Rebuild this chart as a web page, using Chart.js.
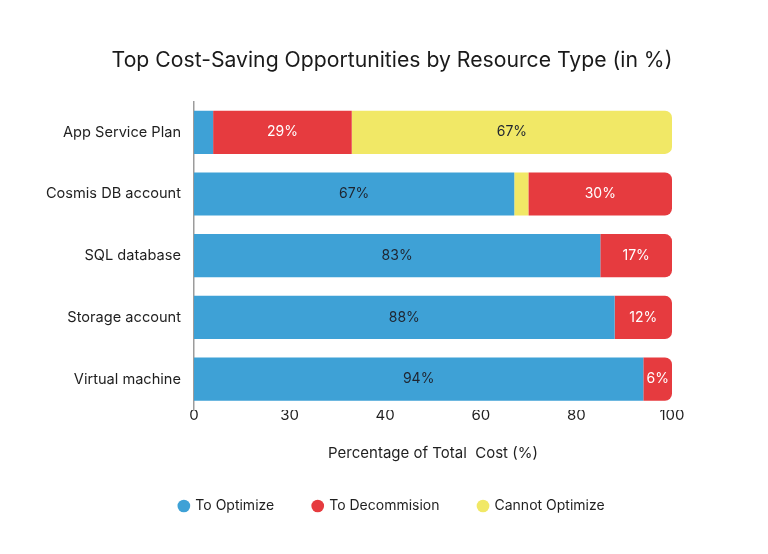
<!DOCTYPE html>
<html>
<head>
<meta charset="utf-8">
<script src="https://cdn.jsdelivr.net/npm/chart.js@4.4.0/dist/chart.umd.min.js"></script>
<style>
  html, body { margin: 0; padding: 0; background: #fff; }
  #wrap { width: 768px; height: 554px; position: relative; }
</style>
</head>
<body>
<div id="wrap"><canvas id="costChart"></canvas></div>
<script>
// Chart data
const resources = ["App Service Plan", "Cosmis DB account", "SQL database", "Storage account", "Virtual machine"];
const seriesNames = ["To Optimize", "To Decommision", "Cannot Optimize"];
const toOptimize = [4, 67, 85, 88, 94];
const toDecommission = [29, 30, 15, 12, 6];
const cannotOptimize = [67, 3, 0, 0, 0];
// printed labels inside the bars ("" = no label shown)
const optimizeLabels = ["", "67%", "83%", "88%", "94%"];
const decommissionLabels = ["29%", "30%", "17%", "12%", "6%"];
const cannotLabels = ["67%", "", "", "", ""];
// order of the segments in each bar, left to right (0 = optimize, 1 = decommission, 2 = cannot)
const segmentOrder = [[0, 1, 2], [0, 2, 1], [0, 1, 2], [0, 1, 2], [0, 1, 2]];
const xTickLabels = ["0", "30", "40", "60", "80", "100"];

const colors = ["#3ea1d6", "#e63b3f", "#f1e866"];
const labelColors = ["#1f2530", "#ffffff", "#1f2530"];
const FONT = "Inter, 'Noto Sans', sans-serif";

// turn the values into [start, end] ranges following each bar's segment order
const values = [toOptimize, toDecommission, cannotOptimize];
const ranges = [[], [], []];
resources.forEach(function(r, i) {
    let pos = 0;
    segmentOrder[i].forEach(function(s) {
        ranges[s][i] = [pos, pos + values[s][i]];
        pos += values[s][i];
    });
});
const printed = [optimizeLabels, decommissionLabels, cannotLabels];

// draws the percentage text in the middle of each segment
const segmentLabels = {
    id: 'segmentLabels',
    afterDatasetsDraw(chart) {
        const ctx = chart.ctx;
        ctx.save();
        ctx.font = "14px " + FONT;
        ctx.textAlign = 'center';
        ctx.textBaseline = 'middle';
        chart.data.datasets.forEach(function(ds, d) {
            const meta = chart.getDatasetMeta(d);
            meta.data.forEach(function(bar, i) {
                const txt = printed[d][i];
                if (!txt) return;
                ctx.fillStyle = labelColors[d];
                ctx.fillText(txt, (bar.x + bar.base) / 2, bar.y);
            });
        });
        ctx.restore();
    }
};

new Chart(document.getElementById('costChart'), {
    type: 'bar',
    data: {
        labels: resources,
        datasets: seriesNames.map(function(name, d) {
            return {
                label: name,
                data: ranges[d],
                backgroundColor: colors[d],
                borderWidth: 0,
                borderSkipped: false,
                borderRadius: function(c) {
                    const v = c.raw;
                    if (v && v[1] >= 100 && v[1] > v[0]) {
                        return { topLeft: 0, bottomLeft: 0, topRight: 7, bottomRight: 7 };
                    }
                    return 0;
                },
                grouped: false,
                barPercentage: 0.7,
                categoryPercentage: 1.0
            };
        })
    },
    options: {
        indexAxis: 'y',
        responsive: true,
        maintainAspectRatio: false,
        animation: false,
        layout: { padding: { left: 30, right: 14, top: 0, bottom: 31 } },
        scales: {
            x: {
                min: 0,
                max: 100,
                grid: { display: false },
                border: { display: false },
                ticks: {
                    stepSize: 20,
                    padding: -12,
                    color: '#1f1f1f',
                    font: { family: FONT, size: 15 },
                    callback: function(v, i) { return xTickLabels[i]; }
                },
                title: {
                    display: true,
                    text: 'Percentage of Total  Cost (%)',
                    color: '#1f1f1f',
                    font: { family: FONT, size: 15 },
                    padding: { top: 32, bottom: -2 }
                }
            },
            y: {
                grid: { display: false, drawTicks: false },
                border: { display: true, color: '#9c9c9c', width: 1.5 },
                ticks: {
                    padding: 13,
                    color: '#1f1f1f',
                    font: { family: FONT, size: 14.6 }
                },
                afterFit: function(scale) { scale.width = 164; }
            },
            // empty right-hand axis that only keeps the space right of the bars
            yRight: {
                type: 'category',
                position: 'right',
                grid: { display: false, drawTicks: false },
                border: { display: false },
                ticks: { display: false },
                afterFit: function(scale) { scale.width = 82; }
            }
        },
        plugins: {
            title: {
                display: true,
                text: 'Top Cost-Saving Opportunities by Resource Type (in %)',
                color: '#1a1a1a',
                font: { family: FONT, size: 21.2, weight: 'normal' },
                padding: { top: 48, bottom: 28 }
            },
            legend: {
                position: 'bottom',
                labels: {
                    usePointStyle: true,
                    pointStyle: 'circle',
                    boxWidth: 9,
                    boxHeight: 9,
                    padding: 39,
                    color: '#1f1f1f',
                    font: { family: FONT, size: 14 }
                }
            },
            tooltip: { enabled: false }
        }
    },
    plugins: [segmentLabels]
});
</script>
</body>
</html>
